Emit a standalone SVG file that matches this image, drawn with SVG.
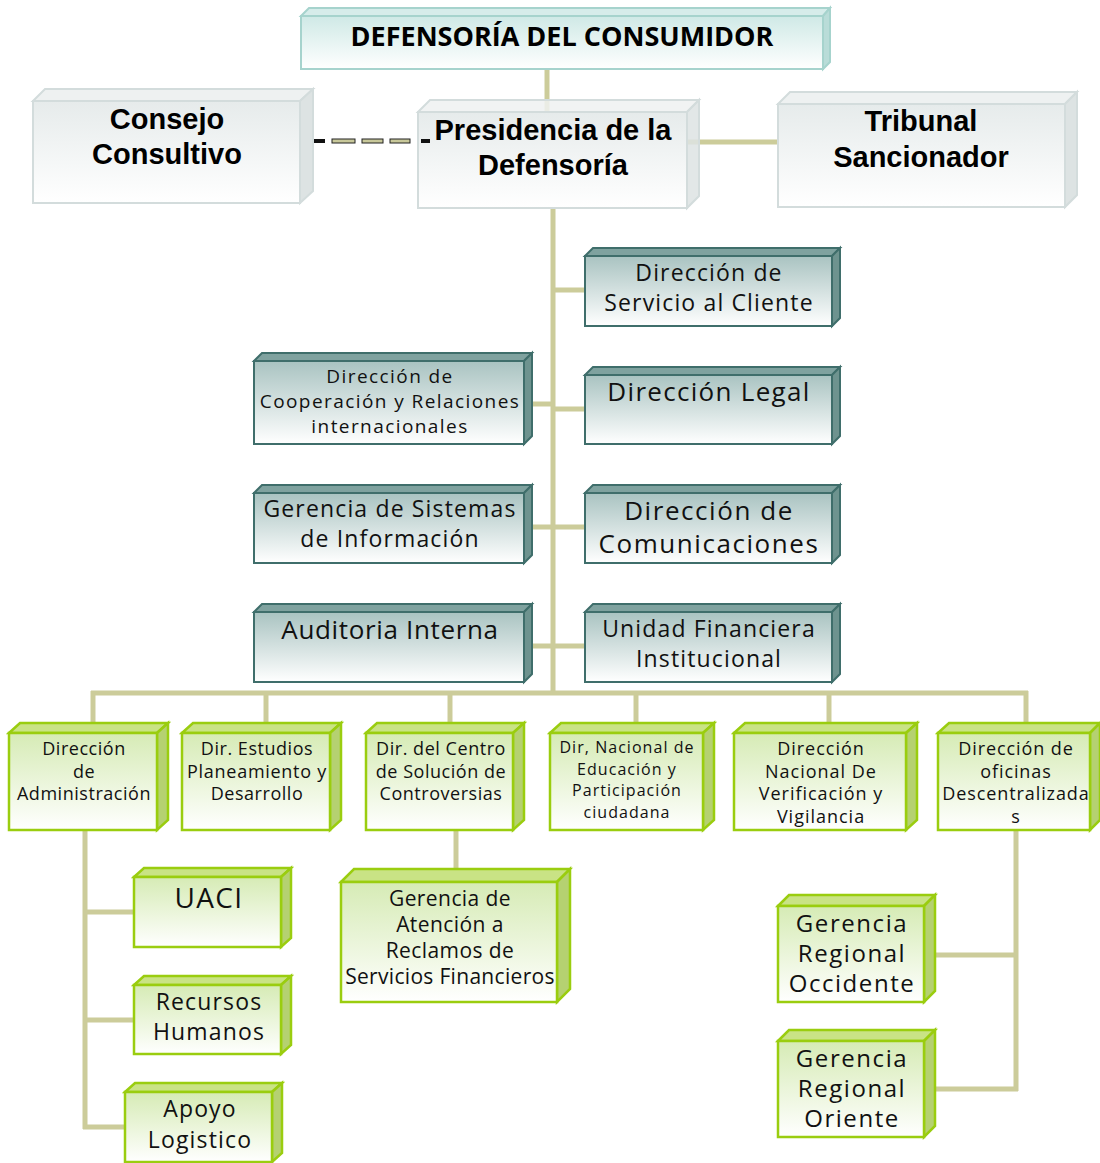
<svg xmlns="http://www.w3.org/2000/svg" width="1100" height="1163" viewBox="0 0 1100 1163">
<defs>
<linearGradient id="gGray" x1="0" y1="0" x2="0" y2="1"><stop offset="0" stop-color="#e6ebeb"/><stop offset="1" stop-color="#ffffff"/></linearGradient>
<linearGradient id="gTop" x1="0" y1="0" x2="0" y2="1"><stop offset="0" stop-color="#cfe9e6"/><stop offset="1" stop-color="#ffffff"/></linearGradient>
<linearGradient id="gTeal" x1="0" y1="0" x2="0" y2="1"><stop offset="0" stop-color="#a9c3c1"/><stop offset="1" stop-color="#ffffff"/></linearGradient>
<linearGradient id="gGreen" x1="0" y1="0" x2="0" y2="1"><stop offset="0" stop-color="#d6ebb5"/><stop offset="1" stop-color="#ffffff"/></linearGradient>
<style>
.gray .f{fill:url(#gGray);stroke:#d3dcdc;stroke-width:2}
.gray .t{fill:#eef1f1;stroke:#d3dcdc;stroke-width:2}
.gray .s{fill:#dde3e3;stroke:#d3dcdc;stroke-width:2}
.topb .f{fill:url(#gTop);stroke:#a6d3cd;stroke-width:2}
.topb .t{fill:#d6ecea;stroke:#a6d3cd;stroke-width:2}
.topb .s{fill:#b9dcd8;stroke:#a6d3cd;stroke-width:2}
.teal .f{fill:url(#gTeal);stroke:#3f6e6b;stroke-width:2}
.teal .t{fill:#7fa29f;stroke:#3f6e6b;stroke-width:2}
.teal .s{fill:#6e938f;stroke:#3f6e6b;stroke-width:2}
.green .f{fill:url(#gGreen);stroke:#9acd0f;stroke-width:2.5}
.green .t{fill:#c9e385;stroke:#9acd0f;stroke-width:2.5}
.green .s{fill:#b5d171;stroke:#9acd0f;stroke-width:2.5}
.bold{font-family:"Liberation Sans",Arial,sans-serif;font-weight:bold;fill:#000;text-anchor:middle}
.hdr{font-family:"Open Sans","Liberation Sans",sans-serif;font-weight:bold;fill:#000;text-anchor:middle}
.lab{font-family:"Open Sans","DejaVu Sans",sans-serif;fill:#111;text-anchor:middle;letter-spacing:0.05em}
.conn line{stroke:#cccc9a;stroke-width:5}
</style>
</defs>
<rect width="1100" height="1163" fill="#ffffff"/>

<g id="connectors" class="conn">
<line x1="547" y1="69" x2="547" y2="116"/>
<line x1="678" y1="142" x2="780" y2="142"/>
<line x1="553" y1="208" x2="553" y2="695"/>
<line x1="553" y1="290" x2="587" y2="290"/>
<line x1="522" y1="404" x2="553" y2="404"/>
<line x1="553" y1="409" x2="587" y2="409"/>
<line x1="522" y1="527" x2="587" y2="527"/>
<line x1="522" y1="646" x2="587" y2="646"/>
<line x1="91" y1="693" x2="1028" y2="693"/>
<line x1="93" y1="691" x2="93" y2="733"/>
<line x1="266" y1="691" x2="266" y2="733"/>
<line x1="450" y1="691" x2="450" y2="733"/>
<line x1="636" y1="691" x2="636" y2="733"/>
<line x1="829" y1="691" x2="829" y2="733"/>
<line x1="1026" y1="691" x2="1026" y2="733"/>
<line x1="85" y1="830" x2="85" y2="1129"/>
<line x1="83" y1="912" x2="136" y2="912"/>
<line x1="83" y1="1020" x2="136" y2="1020"/>
<line x1="83" y1="1127" x2="127" y2="1127"/>
<line x1="456" y1="830" x2="456" y2="882"/>
<line x1="1016" y1="830" x2="1016" y2="1091"/>
<line x1="924" y1="955" x2="1018" y2="955"/>
<line x1="924" y1="1089" x2="1018" y2="1089"/>
<g id="dashed-link">
<rect x="309" y="139" width="16" height="4" fill="#111"/>
<rect x="332" y="139" width="23" height="4" fill="#c8c89a" stroke="#222" stroke-width="1"/>
<rect x="362" y="139" width="21" height="4" fill="#c8c89a" stroke="#222" stroke-width="1"/>
<rect x="390" y="139" width="20" height="4" fill="#c8c89a" stroke="#222" stroke-width="1"/>
</g>
</g>

<g id="n-defensoria" class="topb">
<polygon class="t" points="301,16 309,8 830,8 823,16"/>
<polygon class="s" points="823,16 830,8 830,62 823,69"/>
<rect class="f" x="301" y="16" width="522" height="53"/>
<text class="hdr" x="562" y="46" font-size="27">DEFENSORÍA DEL CONSUMIDOR</text>
</g>

<g id="n-consejo" class="gray">
<polygon class="t" points="33,101 45,89 313,89 300,101"/>
<polygon class="s" points="300,101 313,89 313,191 300,203"/>
<rect class="f" x="33" y="101" width="267" height="102"/>
<text class="bold" x="167" y="129" font-size="29">Consejo</text>
<text class="bold" x="167" y="164" font-size="29">Consultivo</text>
</g>

<g id="n-presidencia" class="gray">
<polygon class="t" points="418,112 430,100 699,100 687,112" fill-opacity="0.85"/>
<polygon class="s" points="687,112 699,100 699,196 687,208" fill-opacity="0.85"/>
<rect class="f" x="418" y="112" width="269" height="96"/>
<rect x="421" y="139" width="9" height="4" fill="#111"/>
<text class="bold" x="553" y="140" font-size="29">Presidencia de la</text>
<text class="bold" x="553" y="175" font-size="29">Defensoría</text>
</g>

<g id="n-tribunal" class="gray">
<polygon class="t" points="778,104 790,92 1077,92 1065,104"/>
<polygon class="s" points="1065,104 1077,92 1077,195 1065,207"/>
<rect class="f" x="778" y="104" width="287" height="103"/>
<text class="bold" x="921" y="131" font-size="29">Tribunal</text>
<text class="bold" x="921" y="167" font-size="29">Sancionador</text>
</g>

<g id="n-servicio" class="teal">
<polygon class="t" points="585,256 593,248 840,248 832,256"/>
<polygon class="s" points="832,256 840,248 840,318 832,326"/>
<rect class="f" x="585" y="256" width="247" height="70"/>
<text class="lab" x="709" y="281" font-size="23">Dirección de</text>
<text class="lab" x="709" y="311" font-size="23">Servicio al Cliente</text>
</g>

<g id="n-cooperacion" class="teal">
<polygon class="t" points="254,361 262,353 532,353 524,361"/>
<polygon class="s" points="524,361 532,353 532,436 524,444"/>
<rect class="f" x="254" y="361" width="270" height="83"/>
<text class="lab" x="390" y="383" font-size="19" style="letter-spacing:0.075em">Dirección de</text>
<text class="lab" x="390" y="408" font-size="19" style="letter-spacing:0.075em">Cooperación y Relaciones</text>
<text class="lab" x="390" y="433" font-size="19" style="letter-spacing:0.075em">internacionales</text>
</g>

<g id="n-legal" class="teal">
<polygon class="t" points="585,375 593,367 840,367 832,375"/>
<polygon class="s" points="832,375 840,367 840,436 832,444"/>
<rect class="f" x="585" y="375" width="247" height="69"/>
<text class="lab" x="709" y="401" font-size="26">Dirección Legal</text>
</g>

<g id="n-sistemas" class="teal">
<polygon class="t" points="254,493 262,485 532,485 524,493"/>
<polygon class="s" points="524,493 532,485 532,555 524,563"/>
<rect class="f" x="254" y="493" width="270" height="70"/>
<text class="lab" x="390" y="517" font-size="23">Gerencia de Sistemas</text>
<text class="lab" x="390" y="547" font-size="23">de Información</text>
</g>

<g id="n-comunicaciones" class="teal">
<polygon class="t" points="585,493 593,485 840,485 832,493"/>
<polygon class="s" points="832,493 840,485 840,555 832,563"/>
<rect class="f" x="585" y="493" width="247" height="70"/>
<text class="lab" x="709" y="520" font-size="26" style="letter-spacing:0.06em">Dirección de</text>
<text class="lab" x="709" y="553" font-size="26" style="letter-spacing:0.06em">Comunicaciones</text>
</g>

<g id="n-auditoria" class="teal">
<polygon class="t" points="254,612 262,604 532,604 524,612"/>
<polygon class="s" points="524,612 532,604 532,674 524,682"/>
<rect class="f" x="254" y="612" width="270" height="70"/>
<text class="lab" x="390" y="639" font-size="26" style="letter-spacing:0.025em">Auditoria Interna</text>
</g>

<g id="n-unidad" class="teal">
<polygon class="t" points="585,612 593,604 840,604 832,612"/>
<polygon class="s" points="832,612 840,604 840,674 832,682"/>
<rect class="f" x="585" y="612" width="247" height="70"/>
<text class="lab" x="709" y="637" font-size="23">Unidad Financiera</text>
<text class="lab" x="709" y="667" font-size="23">Institucional</text>
</g>

<g id="n-admin" class="green">
<polygon class="t" points="9,733 20,723 168,723 157,733"/>
<polygon class="s" points="157,733 168,723 168,820 157,830"/>
<rect class="f" x="9" y="733" width="148" height="97"/>
<text class="lab" x="84" y="755" font-size="18" style="letter-spacing:0.03em">Dirección</text>
<text class="lab" x="84" y="778" font-size="18" style="letter-spacing:0.03em">de</text>
<text class="lab" x="84" y="800" font-size="18" style="letter-spacing:0.03em">Administración</text>
</g>

<g id="n-estudios" class="green">
<polygon class="t" points="182,733 193,723 341,723 330,733"/>
<polygon class="s" points="330,733 341,723 341,820 330,830"/>
<rect class="f" x="182" y="733" width="148" height="97"/>
<text class="lab" x="257" y="755" font-size="18" style="letter-spacing:0.03em">Dir. Estudios</text>
<text class="lab" x="257" y="778" font-size="18" style="letter-spacing:0.04em">Planeamiento y</text>
<text class="lab" x="257" y="800" font-size="18" style="letter-spacing:0.03em">Desarrollo</text>
</g>

<g id="n-centro" class="green">
<polygon class="t" points="366,733 377,723 524,723 513,733"/>
<polygon class="s" points="513,733 524,723 524,820 513,830"/>
<rect class="f" x="366" y="733" width="147" height="97"/>
<text class="lab" x="441" y="755" font-size="18" style="letter-spacing:0.03em">Dir. del Centro</text>
<text class="lab" x="441" y="778" font-size="18" style="letter-spacing:0.03em">de Solución de</text>
<text class="lab" x="441" y="800" font-size="18" style="letter-spacing:0.03em">Controversias</text>
</g>

<g id="n-educacion" class="green">
<polygon class="t" points="550,733 561,723 714,723 703,733"/>
<polygon class="s" points="703,733 714,723 714,820 703,830"/>
<rect class="f" x="550" y="733" width="153" height="97"/>
<text class="lab" x="627" y="753" font-size="16" style="letter-spacing:0.065em">Dir, Nacional de</text>
<text class="lab" x="627" y="775" font-size="16" style="letter-spacing:0.065em">Educación y</text>
<text class="lab" x="627" y="796" font-size="16" style="letter-spacing:0.065em">Participación</text>
<text class="lab" x="627" y="818" font-size="16" style="letter-spacing:0.065em">ciudadana</text>
</g>

<g id="n-verificacion" class="green">
<polygon class="t" points="734,733 745,723 917,723 906,733"/>
<polygon class="s" points="906,733 917,723 917,820 906,830"/>
<rect class="f" x="734" y="733" width="172" height="97"/>
<text class="lab" x="821" y="755" font-size="18" style="letter-spacing:0.055em">Dirección</text>
<text class="lab" x="821" y="778" font-size="18" style="letter-spacing:0.055em">Nacional De</text>
<text class="lab" x="821" y="800" font-size="18" style="letter-spacing:0.055em">Verificación y</text>
<text class="lab" x="821" y="823" font-size="18" style="letter-spacing:0.055em">Vigilancia</text>
</g>

<g id="n-descentralizadas" class="green">
<polygon class="t" points="938,733 949,723 1100,723 1090,733"/>
<polygon class="s" points="1090,733 1100,723 1100,820 1090,830"/>
<rect class="f" x="938" y="733" width="152" height="97"/>
<text class="lab" x="1016" y="755" font-size="18">Dirección de</text>
<text class="lab" x="1016" y="778" font-size="18">oficinas</text>
<text class="lab" x="1016" y="800" font-size="18">Descentralizada</text>
<text class="lab" x="1016" y="823" font-size="18">s</text>
</g>

<g id="n-uaci" class="green">
<polygon class="t" points="134,877 144,868 291,868 281,877"/>
<polygon class="s" points="281,877 291,868 291,938 281,947"/>
<rect class="f" x="134" y="877" width="147" height="70"/>
<text class="lab" x="209" y="908" font-size="28">UACI</text>
</g>

<g id="n-recursos" class="green">
<polygon class="t" points="134,985 144,976 291,976 281,985"/>
<polygon class="s" points="281,985 291,976 291,1045 281,1054"/>
<rect class="f" x="134" y="985" width="147" height="69"/>
<text class="lab" x="209" y="1010" font-size="23">Recursos</text>
<text class="lab" x="209" y="1040" font-size="23">Humanos</text>
</g>

<g id="n-apoyo" class="green">
<polygon class="t" points="125,1092 135,1083 282,1083 272,1092"/>
<polygon class="s" points="272,1092 282,1083 282,1153 272,1162"/>
<rect class="f" x="125" y="1092" width="147" height="70"/>
<text class="lab" x="200" y="1117" font-size="23">Apoyo</text>
<text class="lab" x="200" y="1148" font-size="23">Logistico</text>
</g>

<g id="n-reclamos" class="green">
<polygon class="t" points="341,882 354,869 570,869 557,882"/>
<polygon class="s" points="557,882 570,869 570,989 557,1002"/>
<rect class="f" x="341" y="882" width="216" height="120"/>
<text class="lab" x="450" y="906" font-size="21" style="letter-spacing:0.02em">Gerencia de</text>
<text class="lab" x="450" y="932" font-size="21" style="letter-spacing:0.02em">Atención a</text>
<text class="lab" x="450" y="958" font-size="21" style="letter-spacing:0.02em">Reclamos de</text>
<text class="lab" x="450" y="984" font-size="21" style="letter-spacing:0.015em">Servicios Financieros</text>
</g>

<g id="n-occidente" class="green">
<polygon class="t" points="778,906 789,895 935,895 924,906"/>
<polygon class="s" points="924,906 935,895 935,991 924,1002"/>
<rect class="f" x="778" y="906" width="146" height="96"/>
<text class="lab" x="852" y="932" font-size="24" style="letter-spacing:0.065em">Gerencia</text>
<text class="lab" x="852" y="962" font-size="24" style="letter-spacing:0.065em">Regional</text>
<text class="lab" x="852" y="992" font-size="24" style="letter-spacing:0.065em">Occidente</text>
</g>

<g id="n-oriente" class="green">
<polygon class="t" points="778,1041 789,1030 935,1030 924,1041"/>
<polygon class="s" points="924,1041 935,1030 935,1126 924,1137"/>
<rect class="f" x="778" y="1041" width="146" height="96"/>
<text class="lab" x="852" y="1067" font-size="24" style="letter-spacing:0.065em">Gerencia</text>
<text class="lab" x="852" y="1097" font-size="24" style="letter-spacing:0.065em">Regional</text>
<text class="lab" x="852" y="1127" font-size="24" style="letter-spacing:0.065em">Oriente</text>
</g>
</svg>
